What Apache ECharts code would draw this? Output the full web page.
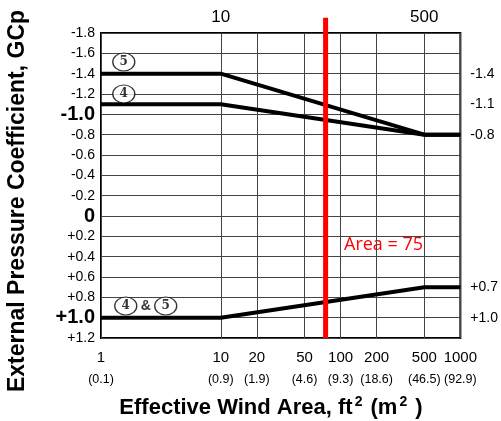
<!DOCTYPE html>
<html>
<head>
<meta charset="utf-8">
<script src="https://cdn.jsdelivr.net/npm/echarts@6/dist/echarts.min.js"></script>
<style>
  html, body { margin: 0; padding: 0; background: #fff; }
  #chart { width: 501px; height: 421px; }
</style>
</head>
<body>
<div id="chart"></div>
<script>
// effective wind area (ft2) breakpoints and GCp for each zone
const areaFt2 = [1, 10, 500, 1000]
const zone5Neg = [-1.4, -1.4, -0.8, -0.8]
const zone4Neg = [-1.1, -1.1, -0.8, -0.8]
const zone45Pos = [1.0, 1.0, 0.7, 0.7]

const xTicks = [1, 10, 20, 50, 100, 200, 500, 1000]
const xTicksM2 = ['(0.1)', '(0.9)', '(1.9)', '(4.6)', '(9.3)', '(18.6)', '(46.5)', '(92.9)']
const topTicks = [10, 500]
const rightTicks = [-1.4, -1.1, -0.8, 0.7, 1.0]
const bigLeftTicks = [-1.0, 0, 1.0]

const designArea = 75
// zone tags: [area, GCp, text]
const zoneTags = [
  [1.55, -1.515, '5'],
  [1.55, -1.2, '4'],
  [1.61, 0.885, '4'],
  [3.47, 0.885, '5']
]
const ampTag = [[2.37, 0.885, '&']]

const font = '"Liberation Sans", Arial, sans-serif'
const zip = (xs, ys) => xs.map((x, i) => [x, ys[i]])
const r1 = v => Math.round(v * 10) / 10

const chart = echarts.init(document.getElementById('chart'))

const curve = (name, ys) => ({
  name,
  type: 'line',
  data: zip(areaFt2, ys),
  symbol: 'none',
  lineStyle: { color: '#000', width: 4 },
  z: 5
})

chart.setOption({
  animation: false,
  textStyle: { fontFamily: font },
  grid: {
    left: 101, right: 39, top: 33, bottom: 83,
    show: true, borderColor: '#000', borderWidth: 2, backgroundColor: 'transparent'
  },
  xAxis: [{
    type: 'log',
    logBase: 10,
    min: 1,
    max: 1000,
    axisLine: { show: false },
    axisTick: { show: false, customValues: xTicks },
    splitLine: { show: true, lineStyle: { color: '#444', width: 1 } },
    axisLabel: {
      customValues: xTicks,
      showMinLabel: true,
      showMaxLabel: true,
      hideOverlap: false,
      margin: 9,
      lineHeight: 22,
      color: '#000',
      fontSize: 15,
      formatter: v => {
        const i = xTicks.findIndex(t => Math.abs(t - v) / t < 1e-6)
        return Math.round(v) + '\n{m|' + (i >= 0 ? xTicksM2[i] : '') + '}'
      },
      rich: { m: { fontSize: 12.5, color: '#000' } }
    }
  }, {
    type: 'log',
    logBase: 10,
    min: 1,
    max: 1000,
    position: 'top',
    axisLine: { show: false },
    axisTick: { show: false, customValues: topTicks },
    splitLine: { show: false },
    axisLabel: {
      customValues: topTicks,
      margin: 7,
      fontSize: 17,
      color: '#000',
      formatter: v => String(Math.round(v))
    }
  }],
  yAxis: [{
    type: 'value',
    inverse: true,
    min: -1.8,
    max: 1.2,
    interval: 0.2,
    axisLine: { show: false },
    axisTick: { show: false },
    splitLine: { show: true, lineStyle: { color: '#444', width: 1 } },
    axisLabel: {
      margin: 6,
      color: '#000',
      fontSize: 14,
      formatter: v => {
        const x = r1(v)
        const txt = x > 0 ? '+' + x.toFixed(1) : (x === 0 ? '0' : x.toFixed(1))
        return bigLeftTicks.some(b => Math.abs(b - x) < 1e-6) ? '{b|' + txt + '}' : txt
      },
      rich: { b: { fontSize: 20, fontWeight: 'bold', color: '#000' } }
    }
  }, {
    type: 'value',
    inverse: true,
    min: -1.8,
    max: 1.2,
    position: 'right',
    axisLine: { show: false },
    axisTick: { show: false },
    splitLine: { show: false },
    axisLabel: {
      customValues: rightTicks,
      margin: 10,
      color: '#000',
      fontSize: 14,
      formatter: v => {
        const x = r1(v)
        return x > 0 ? '+' + x.toFixed(1) : x.toFixed(1)
      }
    }
  }],
  series: [
    curve('Zone 5', zone5Neg),
    curve('Zone 4', zone4Neg),
    curve('Zones 4 & 5', zone45Pos),
    {
      name: 'Design area',
      type: 'line',
      data: [[designArea, -1.95], [designArea, 1.2]],
      symbol: 'none',
      clip: false,
      lineStyle: { color: '#ff0000', width: 5 },
      z: 6
    },
    {
      name: 'tags',
      type: 'scatter',
      data: zoneTags,
      symbol: 'circle',
      symbolSize: [22, 18],
      itemStyle: { color: '#fff', borderColor: '#000', borderWidth: 1.2 },
      label: {
        show: true,
        position: 'inside',
        formatter: p => p.value[2],
        fontFamily: '"DejaVu Serif", serif',
        fontWeight: 'bold',
        fontSize: 12,
        color: '#000'
      },
      z: 7
    },
    {
      name: 'amp',
      type: 'scatter',
      data: ampTag,
      symbolSize: 0,
      label: {
        show: true,
        position: 'inside',
        formatter: p => p.value[2],
        fontFamily: font,
        fontWeight: 'bold',
        fontSize: 14,
        color: '#000'
      },
      z: 7
    }
  ],
  graphic: [{
    type: 'text',
    left: 344,
    top: 236,
    style: { text: 'Area = 75', fill: '#ff0000', fontSize: 18, fontFamily: '"Open Sans", ' + font }
  }, {
    type: 'text',
    x: 6,
    y: 201,
    rotation: Math.PI / 2,
    style: {
      text: 'External Pressure Coefficient, GCp',
      fill: '#000',
      fontSize: 23,
      fontWeight: 'bold',
      fontFamily: font,
      align: 'center',
      verticalAlign: 'top'
    }
  }, {
    type: 'text',
    x: 271,
    y: 408,
    style: {
      text: 'Effective Wind Area, ft{s|2} (m{s|2} )',
      rich: { s: { fontSize: 14, fontWeight: 'bold', verticalAlign: 'top', padding: [0, 2, 11, 2] } },
      fill: '#000',
      fontSize: 22,
      fontWeight: 'bold',
      fontFamily: font,
      align: 'center',
      verticalAlign: 'middle'
    }
  }]
})
</script>
</body>
</html>
